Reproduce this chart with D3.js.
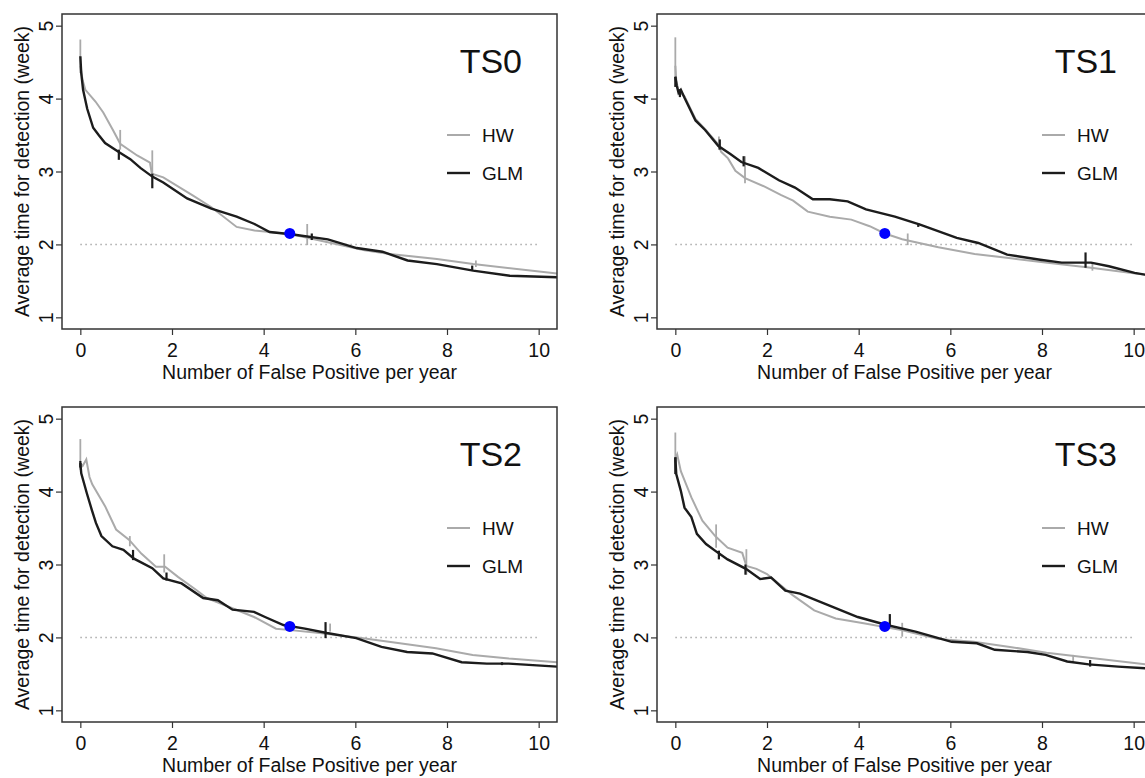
<!DOCTYPE html>
<html>
<head>
<meta charset="utf-8">
<script src="https://cdn.jsdelivr.net/npm/d3@7"></script>
<style>
  body { margin: 0; background: #fff; }
  svg text { font-family: "Liberation Sans", Arial, Helvetica, sans-serif; fill: #111; }
</style>
</head>
<body>
<div id="chart"></div>
<script>
// values: [fp per year, weeks]
const ts0Hw = [[0,4.45],[0.05,4.25],[0.11,4.12],[0.33,3.96],[0.5,3.81],[0.72,3.56],[0.87,3.38],[1.24,3.22],[1.52,3.12],[1.56,2.97],[1.81,2.92],[2.46,2.67],[2.86,2.51],[3.41,2.24],[3.8,2.19],[4.13,2.17],[4.6,2.14],[5.4,2.03],[6.2,1.92],[6.75,1.87],[7.78,1.8],[8.57,1.73],[10.4,1.6]];
const ts0Glm = [[0,4.58],[0.02,4.35],[0.06,4.12],[0.15,3.86],[0.28,3.6],[0.4,3.5],[0.54,3.39],[0.83,3.27],[1.09,3.17],[1.31,3.05],[1.57,2.93],[1.81,2.85],[2.33,2.63],[2.86,2.49],[3.41,2.38],[3.8,2.28],[4.13,2.17],[4.6,2.14],[5.4,2.07],[6.03,1.95],[6.59,1.9],[7.14,1.78],[7.78,1.73],[8.57,1.64],[9.37,1.57],[10.4,1.55]];
const ts1Hw = [[0,4.45],[0.02,4.25],[0.07,4.1],[0.2,4.03],[0.44,3.72],[0.65,3.58],[0.94,3.37],[1.0,3.27],[1.15,3.18],[1.31,3.01],[1.52,2.91],[1.96,2.79],[2.3,2.68],[2.57,2.6],[2.89,2.45],[3.37,2.38],[3.84,2.34],[4.24,2.25],[4.57,2.15],[4.95,2.07],[5.74,1.96],[6.53,1.87],[7.32,1.81],[8.12,1.75],[9.07,1.68],[10.4,1.57]];
const ts1Glm = [[0,4.3],[0.03,4.18],[0.07,4.08],[0.12,4.12],[0.2,4.01],[0.44,3.7],[0.65,3.57],[0.94,3.35],[1.2,3.24],[1.44,3.13],[1.81,3.05],[2.26,2.88],[2.61,2.78],[3.0,2.62],[3.37,2.62],[3.76,2.59],[4.16,2.48],[4.79,2.38],[5.34,2.27],[6.14,2.09],[6.61,2.02],[7.24,1.86],[7.96,1.79],[8.43,1.75],[9.07,1.75],[9.46,1.7],[10.02,1.61],[10.4,1.57]];
const ts2Hw = [[0,4.39],[0.05,4.35],[0.13,4.44],[0.2,4.2],[0.26,4.1],[0.54,3.8],[0.78,3.48],[1.06,3.34],[1.33,3.15],[1.65,2.97],[1.85,2.97],[2.13,2.83],[2.53,2.65],[2.76,2.54],[3.4,2.38],[3.79,2.28],[4.27,2.12],[4.59,2.1],[5.22,2.06],[6.17,1.99],[6.97,1.92],[7.76,1.85],[8.56,1.76],[9.35,1.71],[10.4,1.66]];
const ts2Glm = [[0,4.39],[0.02,4.25],[0.14,3.98],[0.25,3.75],[0.34,3.57],[0.46,3.39],[0.7,3.25],[0.94,3.2],[1.17,3.08],[1.57,2.95],[1.81,2.81],[2.21,2.74],[2.68,2.54],[3.0,2.51],[3.32,2.38],[3.79,2.35],[4.03,2.28],[4.43,2.17],[4.9,2.12],[5.38,2.06],[6.02,1.99],[6.57,1.87],[7.13,1.8],[7.68,1.78],[8.32,1.66],[8.87,1.64],[9.35,1.64],[10.4,1.6]];
const ts3Hw = [[0,4.45],[0.04,4.51],[0.12,4.28],[0.35,3.92],[0.59,3.6],[0.87,3.39],[1.14,3.23],[1.46,3.16],[1.55,2.98],[1.77,2.94],[2.0,2.87],[2.56,2.58],[3.03,2.37],[3.5,2.26],[4.14,2.19],[4.93,2.1],[5.72,1.98],[6.51,1.94],[7.3,1.87],[8.1,1.79],[8.89,1.73],[10.4,1.62]];
const ts3Glm = [[0,4.47],[0.02,4.24],[0.12,4.01],[0.2,3.78],[0.35,3.65],[0.47,3.42],[0.67,3.28],[0.91,3.17],[1.14,3.07],[1.54,2.94],[1.85,2.8],[2.09,2.82],[2.4,2.64],[2.72,2.6],[3.35,2.44],[3.98,2.28],[4.61,2.17],[5.24,2.08],[6.03,1.94],[6.58,1.92],[6.97,1.83],[7.68,1.8],[8.08,1.76],[8.55,1.67],[9.02,1.63],[9.66,1.6],[10.4,1.57]];

// error bars: [x, yTop, yBottom]
const ts0HwBars = [[0,4.81,4.35],[0.87,3.57,3.3],[1.57,3.29,2.97],[4.95,2.28,1.99],[8.63,1.78,1.69]];
const ts0GlmBars = [[0.84,3.3,3.16],[1.57,2.97,2.77],[5.05,2.15,2.06],[8.55,1.71,1.64]];
const ts1HwBars = [[0,4.84,4.3],[0.95,3.48,3.3],[1.52,3.21,2.84],[5.07,2.15,1.99],[9.1,1.75,1.64]];
const ts1GlmBars = [[0,4.3,4.16],[0.1,4.13,4.02],[0.97,3.44,3.3],[1.49,3.21,3.07],[5.3,2.29,2.24],[8.95,1.89,1.68]];
const ts2HwBars = [[0,4.72,4.3],[1.08,3.39,3.25],[1.83,3.14,2.89],[5.45,2.19,2.08]];
const ts2GlmBars = [[0,4.42,4.33],[1.15,3.2,3.06],[1.88,2.89,2.78],[5.35,2.21,1.99],[9.2,1.66,1.62]];
const ts3HwBars = [[0,4.81,4.4],[0.89,3.55,3.23],[1.55,3.21,2.86],[4.95,2.2,2.01],[8.68,1.76,1.67]];
const ts3GlmBars = [[0,4.47,4.24],[0.95,3.19,3.07],[1.53,3.0,2.86],[4.68,2.32,2.14],[9.05,1.69,1.6]];

const panelNames = ["TS0", "TS1", "TS2", "TS3"];
const hwSeries = [ts0Hw, ts1Hw, ts2Hw, ts3Hw];
const glmSeries = [ts0Glm, ts1Glm, ts2Glm, ts3Glm];
const hwBars = [ts0HwBars, ts1HwBars, ts2HwBars, ts3HwBars];
const glmBars = [ts0GlmBars, ts1GlmBars, ts2GlmBars, ts3GlmBars];
const targetPoint = [4.57, 2.15];
const targetLevel = 2;
const xTicks = [0, 2, 4, 6, 8, 10];
const yTicks = [1, 2, 3, 4, 5];
const legendLabels = ["HW", "GLM"];

const W = 1145, H = 778;
const plotW = 495, plotH = 315;
const hwColor = "#aaaaaa", glmColor = "#1c1c1c";

const svg = d3.select("#chart").append("svg").attr("width", W).attr("height", H);

const xScale = d3.scaleLinear().domain([-0.4, 10.4]).range([0, plotW]);
const yScale = d3.scaleLinear().domain([0.84, 5.16]).range([plotH, 0]);

const line = d3.line()
  .x((d) => xScale(d[0]))
  .y((d) => yScale(d[1]));

panelNames.forEach((name, i) => {
  const col = i % 2, row = Math.floor(i / 2);
  const g = svg.append("g")
    .attr("transform", "translate(" + (62 + col * 595) + "," + (14 + row * 393) + ")");

  g.append("clipPath").attr("id", "clip" + i)
    .append("rect").attr("width", plotW).attr("height", plotH);

  // axes
  const xAxis = g.append("g")
    .attr("transform", "translate(0," + plotH + ")")
    .call(d3.axisBottom(xScale).tickValues(xTicks).tickSize(6).tickPadding(8));
  xAxis.select(".domain").remove();
  xAxis.selectAll("line").attr("stroke", "#333").attr("stroke-width", 1.2);
  xAxis.selectAll("text").attr("font-size", 19.5).attr("fill", "#111")
    .style("font-family", "Liberation Sans, Arial, sans-serif");

  const yAxis = g.append("g")
    .call(d3.axisLeft(yScale).tickValues(yTicks).tickFormat(d3.format("d")).tickSize(6));
  yAxis.select(".domain").remove();
  yAxis.selectAll("line").attr("stroke", "#333").attr("stroke-width", 1.2);
  yAxis.selectAll("text")
    .attr("x", null).attr("dy", null)
    .attr("text-anchor", "middle")
    .attr("transform", "translate(-9,0) rotate(-90)")
    .attr("font-size", 19.5).attr("fill", "#111")
    .style("font-family", "Liberation Sans, Arial, sans-serif");

  g.append("text")
    .attr("x", plotW / 2).attr("y", plotH + 50)
    .attr("text-anchor", "middle").attr("font-size", 19.5)
    .text("Number of False Positive per year");

  g.append("text")
    .attr("transform", "translate(-33," + plotH / 2 + ") rotate(-90)")
    .attr("text-anchor", "middle").attr("font-size", 19.5)
    .text("Average time for detection (week)");

  const inner = g.append("g").attr("clip-path", "url(#clip" + i + ")");

  // reference level
  inner.append("line")
    .attr("x1", xScale(0)).attr("x2", xScale(10))
    .attr("y1", yScale(targetLevel)).attr("y2", yScale(targetLevel))
    .attr("stroke", "#aaa").attr("stroke-width", 1.5)
    .attr("stroke-dasharray", "1.5,3.5");

  inner.append("path").datum(hwSeries[i])
    .attr("d", line).attr("fill", "none")
    .attr("stroke", hwColor).attr("stroke-width", 2);
  inner.selectAll(".hwbar").data(hwBars[i]).enter().append("line")
    .attr("class", "hwbar")
    .attr("x1", (d) => xScale(d[0])).attr("x2", (d) => xScale(d[0]))
    .attr("y1", (d) => yScale(d[1])).attr("y2", (d) => yScale(d[2]))
    .attr("stroke", hwColor).attr("stroke-width", 1.8);

  inner.append("path").datum(glmSeries[i])
    .attr("d", line).attr("fill", "none")
    .attr("stroke", glmColor).attr("stroke-width", 2.4);
  inner.selectAll(".glmbar").data(glmBars[i]).enter().append("line")
    .attr("class", "glmbar")
    .attr("x1", (d) => xScale(d[0])).attr("x2", (d) => xScale(d[0]))
    .attr("y1", (d) => yScale(d[1])).attr("y2", (d) => yScale(d[2]))
    .attr("stroke", glmColor).attr("stroke-width", 2.2);

  inner.append("circle")
    .attr("cx", xScale(targetPoint[0])).attr("cy", yScale(targetPoint[1]))
    .attr("r", 5.5).attr("fill", "#0000ff");

  // box
  g.append("rect").attr("width", plotW).attr("height", plotH)
    .attr("fill", "none").attr("stroke", "#333").attr("stroke-width", 1.5);

  g.append("text")
    .attr("x", 460).attr("y", 59)
    .attr("text-anchor", "end").attr("font-size", 34)
    .text(name);

  // legend
  const legend = g.selectAll(".legend").data(legendLabels).enter().append("g")
    .attr("class", "legend")
    .attr("transform", (d, k) => "translate(385," + (121 + k * 38) + ")");
  legend.append("line")
    .attr("x1", 0).attr("x2", 23)
    .attr("stroke", (d, k) => (k === 0 ? hwColor : glmColor))
    .attr("stroke-width", (d, k) => (k === 0 ? 2 : 2.4));
  legend.append("text")
    .attr("x", 35).attr("dy", "0.35em").attr("font-size", 19)
    .text((d) => d);
});
</script>
</body>
</html>
